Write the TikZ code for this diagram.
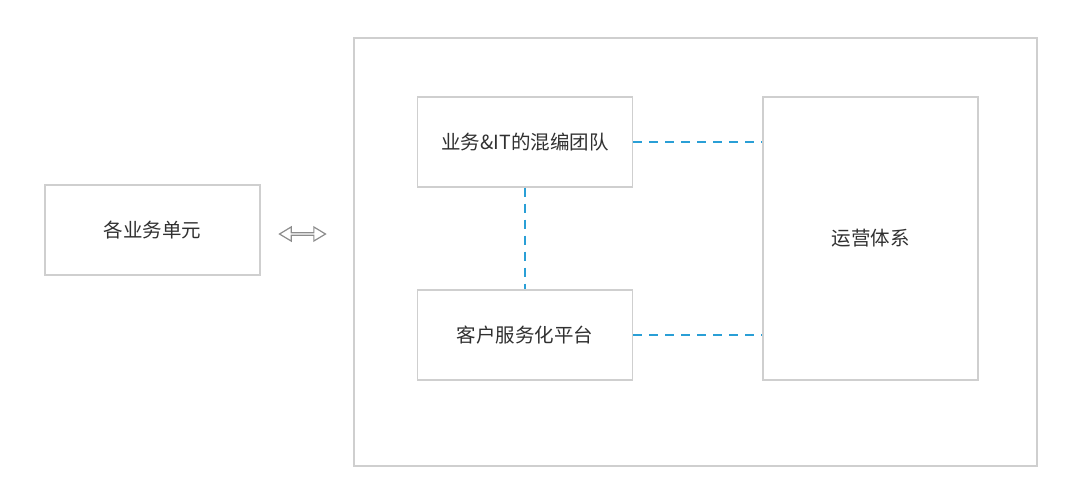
\documentclass[tikz,border=0pt]{standalone}
\usepackage{fontspec}
\setmainfont{Noto Sans CJK SC}
\usetikzlibrary{shapes.arrows}
\definecolor{boxgray}{HTML}{CFCFCF}
\definecolor{textgray}{HTML}{303030}
\definecolor{linkblue}{HTML}{2A9FD6}
\definecolor{arrowgray}{HTML}{8C8C8C}
\begin{document}
\begin{tikzpicture}[
        x=1pt, y=-1pt,
        every node/.style={font=\fontsize{19.5}{23}\selectfont, text=textgray},
        unitbox/.style={draw=boxgray, line width=1.2pt, minimum width=215pt, minimum height=90pt, inner sep=0pt},
        link/.style={draw=linkblue, line width=1.2pt, dash pattern=on 9pt off 7pt},
        swap/.style={shape=double arrow, draw=arrowgray, line width=1.2pt, minimum width=14pt, minimum height=46pt,
            double arrow head extend=3pt, double arrow tip angle=62, inner sep=0pt},
    ]
    \useasboundingbox (0,0) rectangle (1080,488);
    % outer frame
    \node[draw=boxgray, line width=1.2pt, minimum width=683pt, minimum height=428pt, inner sep=0pt]
        (frame) at (695.5,252) {};
    \node[unitbox](units) at (152.5,230){各业务单元};
    \node[unitbox](team) at (525,142){业务\&IT的混编团队};
    \node[unitbox](platform) at (525,335){客户服务化平台};
    \node[unitbox, minimum height=283pt](ops) at (870.5,238.5){运营体系};
    \node[swap](swap) at (302.5,234){};
    % links
    \draw[link] (team.east) -- (team.east -| ops.west);
    \draw[link] (platform.east) -- (platform.east -| ops.west);
    \draw[link] (team.south) -- (platform.north);
\end{tikzpicture}
\end{document}
